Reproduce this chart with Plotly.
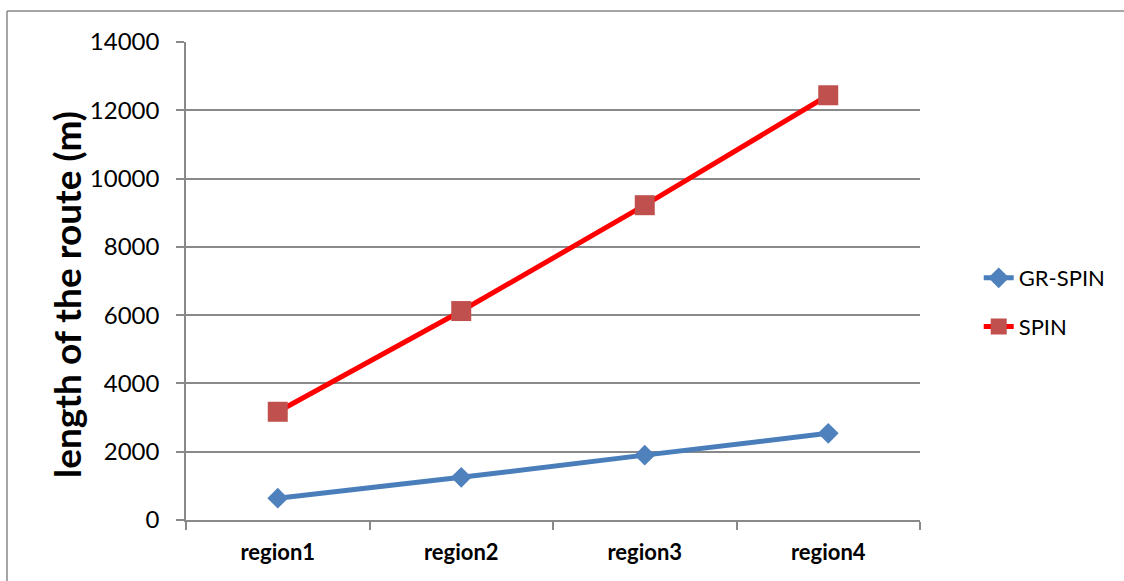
import plotly.graph_objects as go

# Route length per region for the two routing methods
regions = ["region1", "region2", "region3", "region4"]
gr_spin = [640, 1250, 1900, 2540]
spin = [3170, 6120, 9220, 12440]

FONT = "Lato, 'Open Sans', sans-serif"
GRID = "#898989"

# plot area in pixels: x 186..920, y 42..520
PX0, PX1, PY0, PY1 = 186, 920, 520, 42


def px_to_paper_x(px):
    return (px - PX0) / (PX1 - PX0)


def px_to_paper_y(py):
    return (PY0 - py) / (PY0 - PY1)


fig = go.Figure()
fig.add_trace(go.Scatter(
    x=regions, y=gr_spin, name="GR-SPIN", mode="lines+markers",
    line=dict(color="#4a7ebb", width=5),
    marker=dict(symbol="diamond", size=16, color="#4f81bd"),
    legendgroup="a",
))
fig.add_trace(go.Scatter(
    x=regions, y=spin, name="SPIN", mode="lines+markers",
    line=dict(color="#ff0000", width=5),
    marker=dict(symbol="square", size=20, color="#c0504d"),
    legendgroup="b",
))

fig.update_layout(
    width=1124, height=581,
    margin=dict(l=186, r=204, t=42, b=61),
    paper_bgcolor="white", plot_bgcolor="white",
    font=dict(family=FONT, color="#000000"),
    showlegend=True,
    legend=dict(
        x=1.08, y=0.455, xanchor="left", yanchor="middle",
        font=dict(size=22, family=FONT), tracegroupgap=17,
        bgcolor="rgba(0,0,0,0)",
    ),
    xaxis=dict(
        type="category", range=[-0.5, 3.5],
        showline=True, linecolor=GRID, linewidth=1.5,
        ticks="outside", ticklen=8, tickcolor=GRID, tickwidth=1.5,
        tickson="boundaries", showgrid=False,
        tickfont=dict(size=22, family=FONT, weight="bold"),
        ticklabelstandoff=12,
    ),
    yaxis=dict(
        range=[0, 14000], dtick=2000, tickformat="d",
        showline=True, linecolor=GRID, linewidth=1.5,
        ticks="outside", ticklen=8, tickcolor=GRID, tickwidth=1.5,
        showgrid=True, gridcolor=GRID, gridwidth=1.5,
        zeroline=False,
        tickfont=dict(size=24, family=FONT),
        ticklabelstandoff=12,
    ),
    annotations=[
        dict(text="<b>length of the route (m)</b>", textangle=-90,
             xref="paper", yref="paper",
             x=px_to_paper_x(66), y=px_to_paper_y(295),
             xanchor="center", yanchor="middle", showarrow=False,
             font=dict(size=37, family=FONT, color="#000000")),
    ],
    shapes=[
        dict(type="line", xref="paper", yref="paper",
             x0=px_to_paper_x(7), x1=1.4, y0=px_to_paper_y(11), y1=px_to_paper_y(11),
             line=dict(color=GRID, width=1.5)),
        dict(type="line", xref="paper", yref="paper",
             x0=px_to_paper_x(7), x1=px_to_paper_x(7), y0=px_to_paper_y(11), y1=-0.2,
             line=dict(color=GRID, width=1.5)),
    ],
)

fig.write_html("out.html")
